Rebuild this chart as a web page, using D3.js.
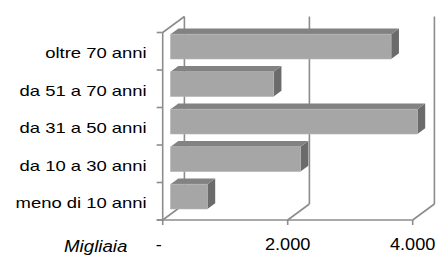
<!DOCTYPE html>
<html>
<head>
<meta charset="utf-8">
<script src="https://cdn.jsdelivr.net/npm/d3@7"></script>
<style>
  body { margin: 0; background: #fff; }
  svg { display: block; font-family: "Liberation Sans", Arial, sans-serif; }
</style>
</head>
<body>
<script>
// data, bottom to top like in the original sheet
const categories = ["meno di 10 anni", "da 10 a 30 anni", "da 31 a 50 anni", "da 51 a 70 anni", "oltre 70 anni"]
const values = [590, 2080, 3950, 1650, 3530]
const xTicks = [0, 2000, 4000]
const tickLabels = ["-", "2.000", "4.000"]
const unitLabel = "Migliaia"

const width = 437
const height = 255

// front plane of the 3d box
const plotLeft = 162.7, plotRight = 412.7, plotTop = 32.5, plotBottom = 220
// depth of the box (x shift, y shift)
const DX = 21.7, DY = -16
// bars sit between these depth fractions
const f0 = 0.36, f1 = 0.72

const x = d3.scaleLinear().domain([0, 4000]).range([plotLeft, plotRight])
const y = d3.scaleBand().domain(categories.slice().reverse()).range([plotTop, plotBottom])

const proj = (px, py, f) => [px + f * DX, py + f * DY]

const svg = d3.select("body").append("svg")
    .attr("width", width)
    .attr("height", height)

const lineColor = "#8c8c8c"
const grid = svg.append("g")
    .attr("stroke", lineColor)
    .attr("stroke-width", 1.6)
    .attr("fill", "none")

// back wall gridlines
grid.selectAll(".back")
    .data(xTicks)
    .enter().append("line")
    .attr("x1", d => proj(x(d), plotTop, 1)[0])
    .attr("x2", d => proj(x(d), plotBottom, 1)[0])
    .attr("y1", d => proj(x(d), plotTop, 1)[1])
    .attr("y2", d => proj(x(d), plotBottom, 1)[1])

// floor depth lines
grid.selectAll(".floor")
    .data(xTicks)
    .enter().append("line")
    .attr("x1", d => x(d))
    .attr("y1", plotBottom)
    .attr("x2", d => proj(x(d), plotBottom, 1)[0])
    .attr("y2", d => proj(x(d), plotBottom, 1)[1])

// left wall top edge
grid.append("line")
    .attr("x1", plotLeft).attr("y1", plotTop)
    .attr("x2", proj(plotLeft, plotTop, 1)[0]).attr("y2", proj(plotLeft, plotTop, 1)[1])

// front axes
grid.append("line")
    .attr("x1", plotLeft).attr("y1", plotTop)
    .attr("x2", plotLeft).attr("y2", plotBottom + 1)
grid.append("line")
    .attr("x1", plotLeft - 6).attr("y1", plotBottom)
    .attr("x2", plotRight).attr("y2", plotBottom)

// y ticks at category boundaries
const yEdges = categories.map(c => y(c)).concat([plotBottom])
grid.selectAll(".ytick")
    .data(yEdges)
    .enter().append("line")
    .attr("x1", plotLeft - 6).attr("x2", plotLeft)
    .attr("y1", d => d).attr("y2", d => d)

// x ticks
grid.selectAll(".xtick")
    .data(xTicks)
    .enter().append("line")
    .attr("x1", d => x(d)).attr("x2", d => x(d))
    .attr("y1", plotBottom).attr("y2", plotBottom + 5)

// bars
const inset = y.bandwidth() * 0.2
const barH = y.bandwidth() * 0.66

const bars = svg.append("g")
    .selectAll("g")
    .data(categories.map((c, i) => ({cat: c, value: values[i]})))
    .enter().append("g")

function face (pts) {
    return pts.map(([v, yy, f]) => proj(x(v), yy, f).join(",")).join(" ")
}

bars.append("polygon")
    .attr("fill", "#6b6b6b")
    .attr("points", d => {
        const y0 = y(d.cat) + inset, y1 = y0 + barH
        return face([[d.value, y0, f0], [d.value, y0, f1], [d.value, y1, f1], [d.value, y1, f0]])
    })

bars.append("polygon")
    .attr("fill", "#828282")
    .attr("points", d => {
        const y0 = y(d.cat) + inset
        return face([[0, y0, f0], [0, y0, f1], [d.value, y0, f1], [d.value, y0, f0]])
    })

bars.append("polygon")
    .attr("fill", "#a6a6a6")
    .attr("stroke", "#b4b4b4")
    .attr("stroke-width", 0.6)
    .attr("points", d => {
        const y0 = y(d.cat) + inset, y1 = y0 + barH
        return face([[0, y0, f0], [d.value, y0, f0], [d.value, y1, f0], [0, y1, f0]])
    })

// category labels
svg.append("g")
    .selectAll("text")
    .data(categories)
    .enter().append("text")
    .attr("transform", d => `translate(146.7,${y(d) + y.bandwidth() / 2 + 7}) scale(1.23,1)`)
    .attr("text-anchor", "end")
    .attr("font-size", 15)
    .attr("fill", "#000")
    .text(d => d)

// x tick labels
svg.append("g")
    .selectAll("text")
    .data(xTicks)
    .enter().append("text")
    .attr("transform", (d, i) => `translate(${x(d) - (i === 0 ? 4 : 0)},250) scale(1.07,1)`)
    .attr("text-anchor", "middle")
    .attr("font-size", 17)
    .attr("fill", "#000")
    .text((d, i) => tickLabels[i])

svg.append("text")
    .attr("transform", "translate(95.7,252.3) scale(1.1,1)")
    .attr("text-anchor", "middle")
    .attr("font-size", 17)
    .attr("font-style", "italic")
    .attr("fill", "#000")
    .text(unitLabel)
</script>
</body>
</html>
